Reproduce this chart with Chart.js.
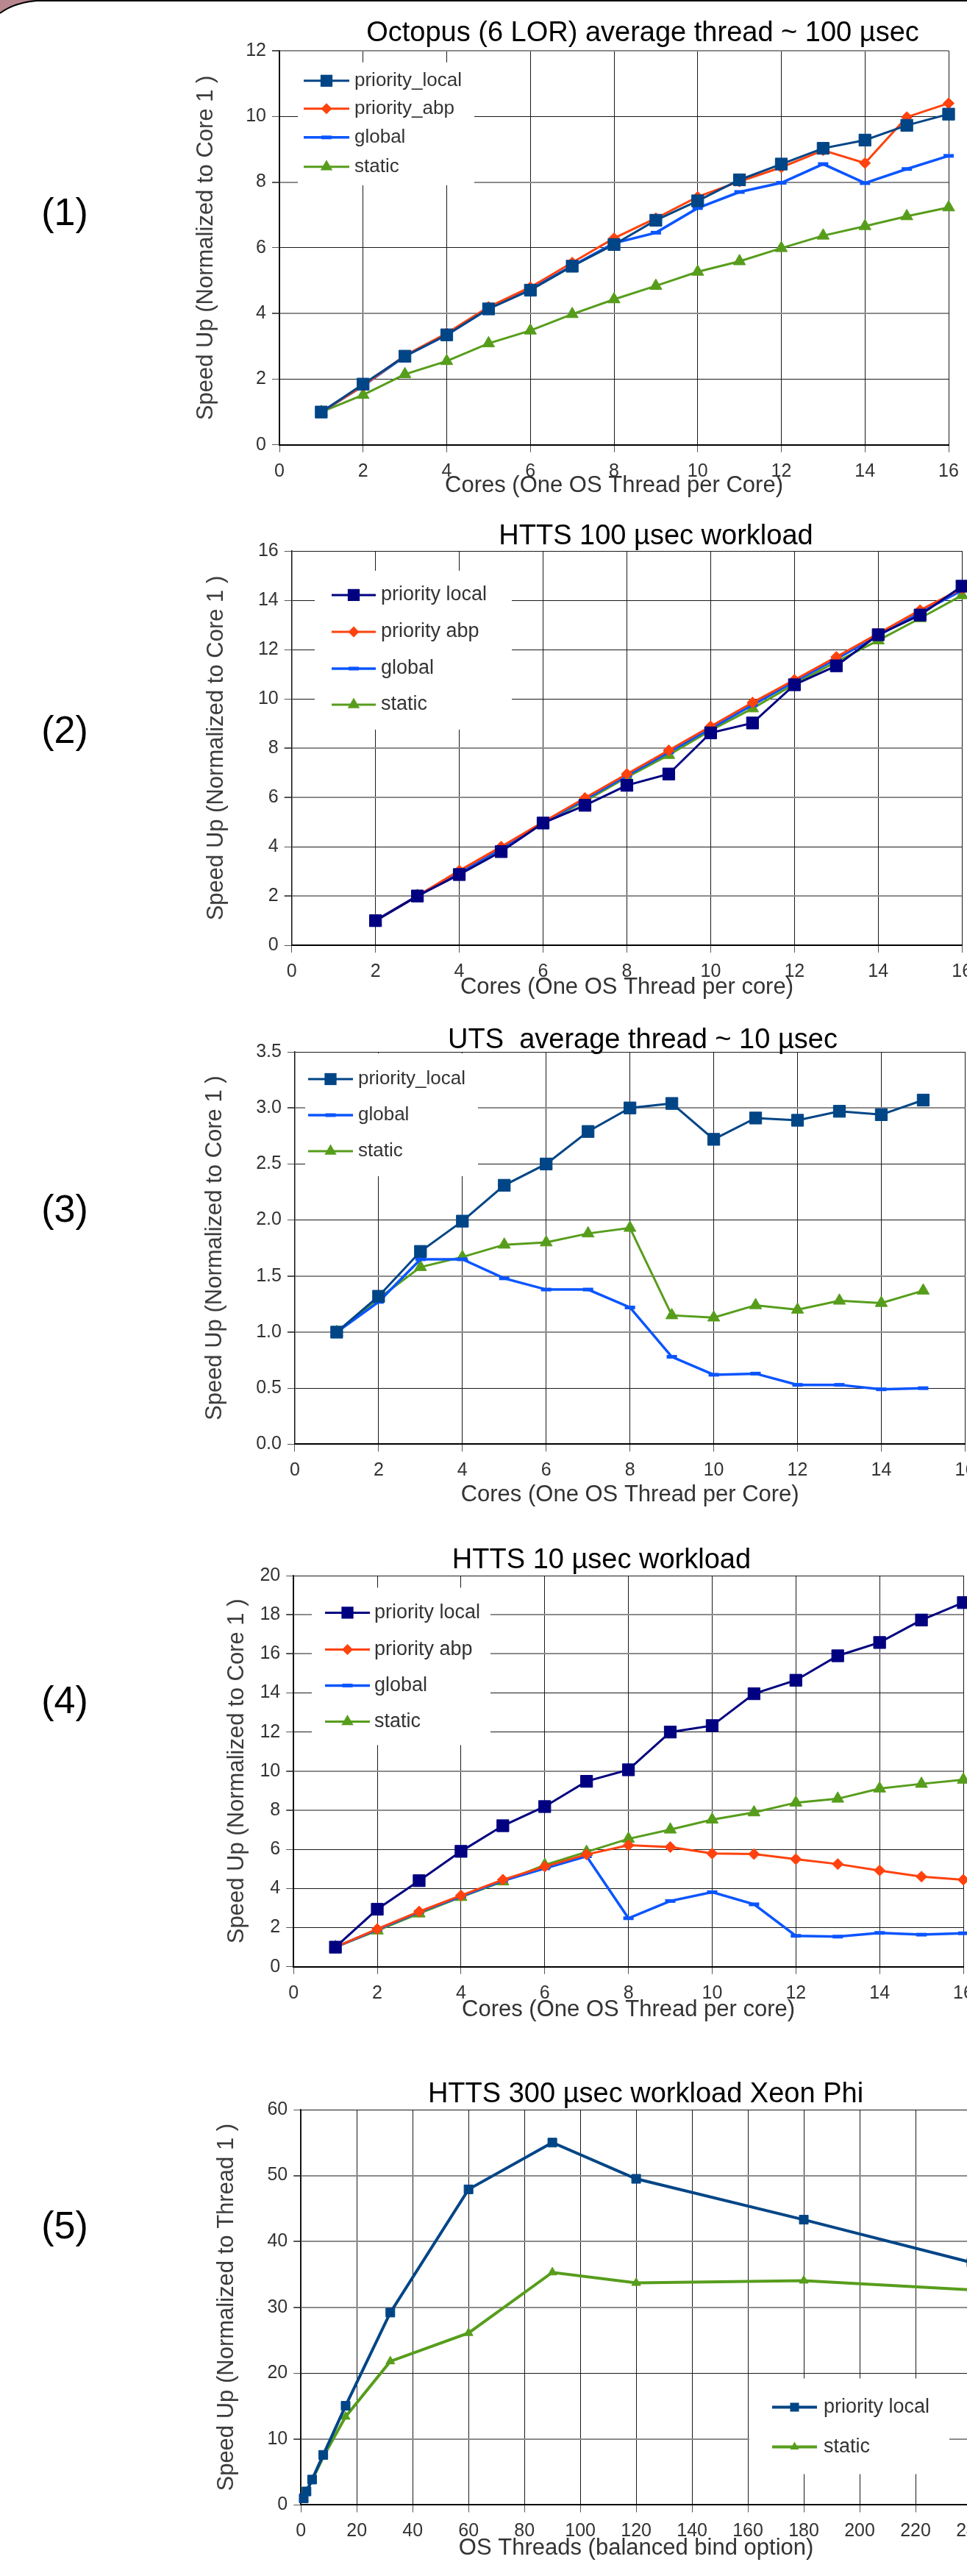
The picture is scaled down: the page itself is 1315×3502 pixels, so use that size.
<!DOCTYPE html>
<html>
<head>
<meta charset="utf-8">
<title>Speed up charts</title>
<script src="https://cdn.jsdelivr.net/npm/chart.js@4.4.1/dist/chart.umd.min.js"></script>
<style>
  html, body { margin: 0; padding: 0; width: 1315px; height: 3502px; overflow: hidden; background: #fff; }
  body { position: relative; font-family: "Liberation Sans", Arial, sans-serif; }
  canvas { position: absolute; left: 0; }
  .title { position: absolute; font-size: 38px; line-height: 1; color: #000; white-space: pre; transform: translateX(-50%); }
  .num { position: absolute; font-size: 52px; line-height: 1; color: #000; white-space: nowrap; transform: translateX(-50%); }
  #topline { position: absolute; left: 48px; top: 0; width: 1300px; height: 1.5px; background: #000; }
  #corner { position: absolute; left: 0; top: 0; }
</style>
</head>
<body>
<svg id="corner" width="70" height="24">
  <path d="M0,0 L56,0 C25,2 8,12 0,18 Z" fill="#b8878f"/>
  <path d="M0,18 C8,12 25,2 56,0.5" stroke="#000" stroke-width="2" fill="none"/>
</svg>
<div id="topline"></div>

<canvas id="c1"></canvas>
<canvas id="c2"></canvas>
<canvas id="c3"></canvas>
<canvas id="c4"></canvas>
<canvas id="c5"></canvas>

<div class="num" style="left:88px;top:262px">(1)</div>
<div class="num" style="left:88px;top:966px">(2)</div>
<div class="num" style="left:88px;top:1617px">(3)</div>
<div class="num" style="left:88px;top:2285px">(4)</div>
<div class="num" style="left:88px;top:2999px">(5)</div>

<div class="title" style="left:874px;top:23.6px">Octopus (6 LOR) average thread ~ 100 µsec</div>
<div class="title" style="left:892px;top:708px">HTTS 100 µsec workload</div>
<div class="title" style="left:874px;top:1393px">UTS  average thread ~ 10 µsec</div>
<div class="title" style="left:818px;top:2100px">HTTS 10 µsec workload</div>
<div class="title" style="left:878px;top:2826px">HTTS 300 µsec workload Xeon Phi</div>

<script>
// (1) Octopus (6 LOR)
const cores1 = [1, 2, 3, 4, 5, 6, 7, 8, 9, 10, 11, 12, 13, 14, 15, 16];
const octLocal  = [1.0, 1.85, 2.7, 3.35, 4.14, 4.71, 5.44, 6.1, 6.84, 7.43, 8.07, 8.55, 9.03, 9.28, 9.73, 10.07];
const octAbp    = [1.0, 1.8, 2.72, 3.4, 4.2, 4.8, 5.55, 6.29, 6.9, 7.55, 8.02, 8.45, 8.97, 8.58, 9.98, 10.4];
const octGlobal = [1.0, 1.8, 2.7, 3.35, 4.15, 4.75, 5.45, 6.14, 6.46, 7.21, 7.7, 7.98, 8.55, 7.97, 8.4, 8.8];
const octStatic = [1.0, 1.52, 2.15, 2.55, 3.09, 3.48, 3.98, 4.43, 4.84, 5.27, 5.59, 5.99, 6.37, 6.66, 6.96, 7.23];

// (2) HTTS 100 usec
const cores2 = [2, 3, 4, 5, 6, 7, 8, 9, 10, 11, 12, 13, 14, 15, 16];
const h100Local  = [1.0, 2.0, 2.87, 3.8, 4.96, 5.68, 6.49, 6.95, 8.62, 9.02, 10.57, 11.34, 12.6, 13.4, 14.57];
const h100Abp    = [1.0, 2.0, 3.03, 4.0, 5.0, 5.98, 6.95, 7.91, 8.88, 9.85, 10.77, 11.7, 12.65, 13.6, 14.47];
const h100Global = [1.0, 2.0, 2.97, 3.92, 4.97, 5.92, 6.88, 7.83, 8.8, 9.75, 10.7, 11.62, 12.57, 13.5, 14.4];
const h100Static = [1.0, 2.0, 2.95, 3.9, 4.95, 5.85, 6.82, 7.72, 8.72, 9.61, 10.6, 11.5, 12.37, 13.27, 14.2];

// (3) UTS
const cores3 = [1, 2, 3, 4, 5, 6, 7, 8, 9, 10, 11, 12, 13, 14, 15];
const utsLocal  = [1.0, 1.32, 1.72, 1.99, 2.31, 2.5, 2.79, 3.0, 3.04, 2.72, 2.91, 2.89, 2.97, 2.94, 3.07];
const utsGlobal = [1.0, 1.27, 1.65, 1.65, 1.48, 1.38, 1.38, 1.22, 0.78, 0.62, 0.63, 0.53, 0.53, 0.49, 0.5];
const utsStatic = [1.0, 1.3, 1.58, 1.67, 1.78, 1.8, 1.88, 1.93, 1.15, 1.13, 1.24, 1.2, 1.28, 1.26, 1.37];

// (4) HTTS 10 usec
const cores4 = [1, 2, 3, 4, 5, 6, 7, 8, 9, 10, 11, 12, 13, 14, 15, 16];
const h10Local  = [1.0, 2.94, 4.4, 5.9, 7.21, 8.19, 9.48, 10.07, 12.0, 12.33, 13.96, 14.65, 15.9, 16.58, 17.73, 18.62];
const h10Abp    = [1.0, 1.93, 2.82, 3.64, 4.45, 5.12, 5.74, 6.21, 6.12, 5.79, 5.76, 5.5, 5.25, 4.92, 4.61, 4.45];
const h10Global = [1.0, 1.9, 2.8, 3.6, 4.4, 5.03, 5.65, 2.48, 3.36, 3.81, 3.19, 1.58, 1.54, 1.73, 1.64, 1.71];
const h10Static = [1.0, 1.85, 2.72, 3.56, 4.36, 5.2, 5.87, 6.54, 7.01, 7.52, 7.89, 8.39, 8.59, 9.11, 9.35, 9.56];

// (5) HTTS 300 usec Xeon Phi
const threads5 = [1, 2, 4, 8, 16, 32, 60, 90, 120, 180, 240];
const phiLocal  = [1.0, 2.05, 3.85, 7.6, 15.05, 29.2, 47.9, 55.0, 49.5, 43.3, 36.8];
const phiStatic = [1.0, 2.0, 3.8, 7.3, 13.4, 21.8, 26.1, 35.3, 33.7, 34.05, 32.65];

const W = 1400;
const NAVY = '#000080', DARKBLUE = '#004586', ORANGE = '#ff420e', BLUE = '#0a55ff', GREEN = '#579d1c';

Chart.defaults.font.family = '"Liberation Sans", Arial, sans-serif';
Chart.defaults.color = '#333';

function series(label, xs, ys, style) {
  return Object.assign({
    label: label,
    data: xs.map((x, i) => ({ x: x, y: ys[i] })),
    tension: 0, fill: false, clip: false
  }, style);
}

function squareStyle(c, r, w) {
  return { borderColor: c, backgroundColor: c, borderWidth: w || 3, pointStyle: 'rect', pointRadius: r || 11.5,
           pointBackgroundColor: c, pointBorderColor: c, pointBorderWidth: 1 };
}
function diamondStyle(c) {
  return { borderColor: c, backgroundColor: c, borderWidth: 3, pointStyle: 'rectRot', pointRadius: 7.5,
           pointBackgroundColor: c, pointBorderColor: c, pointBorderWidth: 1 };
}
function dashStyle(c) {
  return { borderColor: c, backgroundColor: c, borderWidth: 3.5, pointStyle: 'line', pointRadius: 7,
           pointBorderColor: c, pointBorderWidth: 5 };
}
function triangleStyle(c, r, w) {
  return { borderColor: c, backgroundColor: c, borderWidth: w || 3, pointStyle: 'triangle', pointRadius: r || 9.5,
           pointBackgroundColor: c, pointBorderColor: c, pointBorderWidth: 1 };
}

// legend drawn as a white box inside the plot, like the original
function drawMarker(ctx, ds, x, y) {
  const r = ds.pointRadius, c = ds.pointBackgroundColor || ds.borderColor;
  ctx.fillStyle = c;
  ctx.strokeStyle = ds.pointBorderColor || c;
  ctx.beginPath();
  if (ds.pointStyle === 'rect') {
    const s = r * Math.SQRT1_2;
    ctx.rect(x - s, y - s, 2 * s, 2 * s);
    ctx.fill();
  } else if (ds.pointStyle === 'rectRot') {
    ctx.moveTo(x - r, y); ctx.lineTo(x, y - r); ctx.lineTo(x + r, y); ctx.lineTo(x, y + r);
    ctx.closePath(); ctx.fill();
  } else if (ds.pointStyle === 'triangle') {
    const h = r * Math.sin(Math.PI / 3);
    ctx.moveTo(x, y - r); ctx.lineTo(x + h, y + r / 2); ctx.lineTo(x - h, y + r / 2);
    ctx.closePath(); ctx.fill();
  } else if (ds.pointStyle === 'line') {
    ctx.lineWidth = ds.pointBorderWidth;
    ctx.moveTo(x - r, y); ctx.lineTo(x + r, y); ctx.stroke();
  }
}

const boxLegend = {
  id: 'boxLegend',
  beforeDatasetsDraw(chart, args, opts) {
    if (!opts.box) return;
    const ctx = chart.ctx, dy = opts.offsetY;
    ctx.save();
    ctx.fillStyle = '#fff';
    ctx.fillRect(opts.box[0], opts.box[1] - dy, opts.box[2], opts.box[3]);
    ctx.font = opts.size + 'px "Liberation Sans", Arial, sans-serif';
    ctx.textBaseline = 'middle';
    chart.data.datasets.forEach((ds, i) => {
      const y = opts.rows[i] - dy;
      ctx.strokeStyle = ds.borderColor;
      ctx.lineWidth = ds.borderWidth;
      ctx.beginPath();
      ctx.moveTo(opts.line[0], y);
      ctx.lineTo(opts.line[1], y);
      ctx.stroke();
      drawMarker(ctx, ds, (opts.line[0] + opts.line[1]) / 2, y);
      ctx.fillStyle = '#333';
      ctx.fillText(ds.label, opts.textX, y);
    });
    ctx.restore();
  }
};

function gridFor(light) {
  const isLight = v => light.some(l => Math.abs(l - v) < 1e-6);
  return {
    color: c => (c.tick && isLight(c.tick.value)) ? '#8c8c8c' : '#1a1a1a',
    lineWidth: c => (c.tick && isLight(c.tick.value)) ? 2 : 1,
    tickLength: 10,
    tickColor: '#555'
  };
}

function buildChart(id, p, datasets) {
  const canvas = document.getElementById(id);
  const ct = p.area.t - 40, cb = p.xTitleY + 40;
  canvas.width = W;
  canvas.height = cb - ct;
  canvas.style.top = ct + 'px';
  const yLeft = p.yTitleX - 18.6, xBottom = p.xTitleY + 18.6;

  new Chart(canvas, {
    type: 'line',
    data: { datasets: datasets },
    options: {
      responsive: false,
      animation: false,
      devicePixelRatio: 1,
      layout: { padding: { top: p.area.t - ct, left: yLeft, right: W - p.area.r, bottom: cb - xBottom } },
      plugins: {
        legend: { display: false },
        tooltip: { enabled: false },
        boxLegend: Object.assign({ offsetY: ct }, p.legend)
      },
      scales: {
        x: {
          type: 'linear', min: 0, max: p.xMax,
          ticks: { stepSize: p.xStep, autoSkip: false, maxRotation: 0, maxTicksLimit: 30, padding: 11,
                   color: '#333', font: { size: 25 } },
          grid: gridFor([]),
          border: { color: '#000', width: 2 },
          title: { display: true, text: p.xTitle, color: '#333', font: { size: 31 }, padding: 0 },
          afterFit: s => { s.height = xBottom - p.area.b; }
        },
        y: {
          min: 0, max: p.yMax,
          ticks: { stepSize: p.yStep, maxTicksLimit: 30, padding: 8, color: '#333', font: { size: 25 },
                   callback: v => p.yDecimals ? v.toFixed(p.yDecimals) : v },
          grid: gridFor(p.light),
          border: { color: '#111', width: 1.5 },
          title: { display: true, text: p.yTitle, color: '#3c3c3c', font: { size: 31 }, padding: 0 },
          afterFit: s => { s.width = p.area.l - yLeft; }
        }
      }
    },
    plugins: [boxLegend]
  });
}

const yCore = 'Speed Up (Normalized to Core 1 )';

buildChart('c1', {
  area: { l: 380, r: 1290, t: 69.2, b: 605.8 }, yTitleX: 280, xTitleY: 661,
  xMax: 16, xStep: 2, yMax: 12, yStep: 2, light: [4, 8, 12],
  xTitle: 'Cores (One OS Thread per Core)', yTitle: yCore,
  legend: { box: [405, 85, 240, 167], rows: [110, 148, 187, 227], line: [413, 475], textX: 482, size: 26 }
}, [
  series('priority_local', cores1, octLocal, squareStyle(DARKBLUE)),
  series('priority_abp', cores1, octAbp, diamondStyle(ORANGE)),
  series('global', cores1, octGlobal, dashStyle(BLUE)),
  series('static', cores1, octStatic, triangleStyle(GREEN))
]);

buildChart('c2', {
  area: { l: 396.7, r: 1308.2, t: 749.1, b: 1286.1 }, yTitleX: 294, xTitleY: 1343,
  xMax: 16, xStep: 2, yMax: 16, yStep: 2, light: [2, 6, 8],
  xTitle: 'Cores (One OS Thread per core)', yTitle: yCore,
  legend: { box: [428, 776, 268, 216], rows: [809, 859, 909, 958], line: [451, 511], textX: 518, size: 27 }
}, [
  series('priority local', cores2, h100Local, squareStyle(NAVY)),
  series('priority abp', cores2, h100Abp, diamondStyle(ORANGE)),
  series('global', cores2, h100Global, dashStyle(BLUE)),
  series('static', cores2, h100Static, triangleStyle(GREEN))
]);

buildChart('c3', {
  area: { l: 400.9, r: 1312.4, t: 1430, b: 1963.4 }, yTitleX: 292, xTitleY: 2032,
  xMax: 16, xStep: 2, yMax: 3.5, yStep: 0.5, yDecimals: 1, light: [1, 1.5, 3],
  xTitle: 'Cores (One OS Thread per Core)', yTitle: yCore,
  legend: { box: [415, 1432, 235, 167], rows: [1467, 1516, 1565], line: [419, 480], textX: 487, size: 26 }
}, [
  series('priority_local', cores3, utsLocal, squareStyle(DARKBLUE)),
  series('global', cores3, utsGlobal, dashStyle(BLUE)),
  series('static', cores3, utsStatic, triangleStyle(GREEN))
]);

buildChart('c4', {
  area: { l: 399.2, r: 1310, t: 2141.6, b: 2673.7 }, yTitleX: 322, xTitleY: 2732,
  xMax: 16, xStep: 2, yMax: 20, yStep: 2, light: [8, 10, 16, 18],
  xTitle: 'Cores (One OS Thread per core)', yTitle: yCore,
  legend: { box: [424, 2158, 243, 214], rows: [2192, 2242, 2291, 2340], line: [442, 503], textX: 509, size: 27 }
}, [
  series('priority local', cores4, h10Local, squareStyle(NAVY)),
  series('priority abp', cores4, h10Abp, diamondStyle(ORANGE)),
  series('global', cores4, h10Global, dashStyle(BLUE)),
  series('static', cores4, h10Static, triangleStyle(GREEN))
]);

buildChart('c5', {
  area: { l: 409.2, r: 1321, t: 2867.5, b: 3405.4 }, yTitleX: 308, xTitleY: 3464,
  xMax: 240, xStep: 20, yMax: 60, yStep: 10, light: [10, 30, 40, 50],
  xTitle: 'OS Threads (balanced bind option)', yTitle: 'Speed Up (Normalized to Thread 1 )',
  legend: { box: [1019, 3233, 272, 130], rows: [3272, 3326], line: [1050, 1111], textX: 1120, size: 27 }
}, [
  series('priority local', threads5, phiLocal, squareStyle(DARKBLUE, 8.5, 4)),
  series('static', threads5, phiStatic, triangleStyle(GREEN, 7, 4))
]);
</script>
</body>
</html>
